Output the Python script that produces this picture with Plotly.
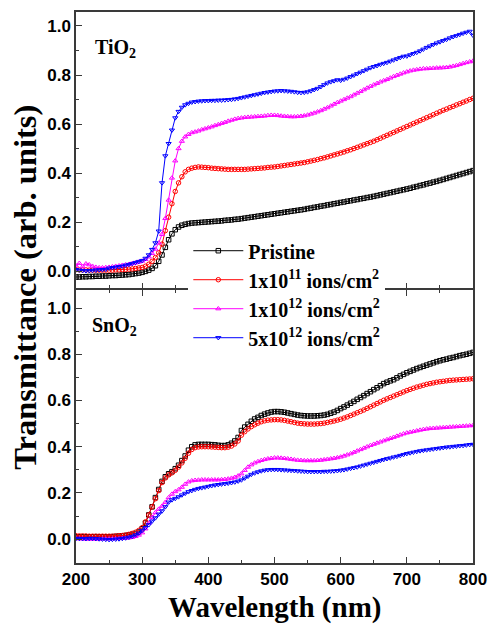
import plotly.graph_objects as go
from plotly.subplots import make_subplots

wavelength = list(range(200, 801, 5))

# ---------------- TiO2 ----------------
tio2_pristine = [
    -0.024, -0.024, -0.023, -0.023, -0.022, -0.022, -0.021, -0.021, -0.020, -0.020,
    -0.019, -0.018, -0.018, -0.017, -0.016, -0.015, -0.014, -0.012, -0.010, -0.008,
    -0.005, -0.001, 0.004, 0.011, 0.022, 0.040, 0.066, 0.097, 0.128, 0.152,
    0.169, 0.180, 0.187, 0.191, 0.194, 0.196, 0.197, 0.198, 0.199, 0.200,
    0.201, 0.202, 0.203, 0.204, 0.205, 0.207, 0.208, 0.209, 0.211, 0.212,
    0.214, 0.216, 0.218, 0.220, 0.222, 0.224, 0.226, 0.228, 0.230, 0.232,
    0.234, 0.236, 0.238, 0.240, 0.242, 0.244, 0.246, 0.248, 0.250, 0.252,
    0.255, 0.257, 0.260, 0.262, 0.265, 0.267, 0.270, 0.272, 0.275, 0.277,
    0.280, 0.282, 0.285, 0.287, 0.290, 0.292, 0.295, 0.297, 0.300, 0.302,
    0.305, 0.308, 0.311, 0.314, 0.317, 0.320, 0.323, 0.326, 0.329, 0.332,
    0.335, 0.338, 0.342, 0.345, 0.349, 0.352, 0.356, 0.359, 0.363, 0.366,
    0.370, 0.374, 0.378, 0.382, 0.386, 0.390, 0.394, 0.398, 0.402, 0.406,
    0.410]
tio2_1e11 = [
    0.006, 0.005, 0.005, 0.005, 0.004, 0.004, 0.004, 0.004, 0.004, 0.004,
    0.004, 0.004, 0.005, 0.005, 0.006, 0.007, 0.008, 0.009, 0.011, 0.013,
    0.015, 0.020, 0.028, 0.040, 0.055, 0.075, 0.110, 0.165, 0.220, 0.275,
    0.325, 0.360, 0.385, 0.405, 0.415, 0.420, 0.423, 0.425, 0.424, 0.423,
    0.422, 0.420, 0.419, 0.418, 0.417, 0.416, 0.415, 0.415, 0.415, 0.415,
    0.415, 0.415, 0.416, 0.417, 0.418, 0.419, 0.420, 0.421, 0.423, 0.424,
    0.425, 0.427, 0.429, 0.431, 0.433, 0.435, 0.437, 0.439, 0.441, 0.443,
    0.446, 0.449, 0.452, 0.455, 0.459, 0.462, 0.466, 0.470, 0.474, 0.478,
    0.482, 0.486, 0.491, 0.495, 0.500, 0.505, 0.510, 0.515, 0.520, 0.525,
    0.530, 0.536, 0.542, 0.548, 0.554, 0.560, 0.566, 0.572, 0.578, 0.584,
    0.590, 0.596, 0.602, 0.608, 0.614, 0.620, 0.626, 0.632, 0.638, 0.644,
    0.650, 0.656, 0.661, 0.667, 0.672, 0.678, 0.683, 0.689, 0.694, 0.700,
    0.705]
tio2_1e12 = [
    0.022, 0.032, 0.018, 0.030, 0.026, 0.020, 0.016, 0.014, 0.014, 0.015,
    0.016, 0.018, 0.020, 0.022, 0.024, 0.026, 0.028, 0.031, 0.034, 0.037,
    0.041, 0.048, 0.058, 0.072, 0.090, 0.115, 0.150, 0.215, 0.290, 0.380,
    0.450, 0.500, 0.530, 0.548, 0.558, 0.565, 0.568, 0.572, 0.577, 0.581,
    0.585, 0.589, 0.594, 0.598, 0.603, 0.607, 0.612, 0.616, 0.620, 0.623,
    0.625, 0.627, 0.628, 0.629, 0.630, 0.631, 0.632, 0.633, 0.635, 0.636,
    0.636, 0.635, 0.633, 0.632, 0.631, 0.630, 0.630, 0.631, 0.632, 0.634,
    0.637, 0.641, 0.645, 0.650, 0.655, 0.661, 0.667, 0.674, 0.681, 0.688,
    0.694, 0.700, 0.706, 0.712, 0.719, 0.726, 0.733, 0.740, 0.747, 0.754,
    0.760, 0.766, 0.772, 0.777, 0.782, 0.788, 0.794, 0.799, 0.804, 0.809,
    0.813, 0.817, 0.820, 0.822, 0.824, 0.826, 0.826, 0.827, 0.828, 0.829,
    0.829, 0.830, 0.831, 0.833, 0.836, 0.839, 0.843, 0.847, 0.851, 0.854,
    0.857]
tio2_5e12 = [
    0.006, 0.004, 0.002, 0.001, 0.002, 0.003, 0.004, 0.005, 0.006, 0.007,
    0.012, 0.014, 0.016, 0.018, 0.020, 0.024, 0.027, 0.031, 0.035, 0.039,
    0.043, 0.052, 0.066, 0.088, 0.115, 0.163, 0.360, 0.470, 0.520, 0.575,
    0.625, 0.651, 0.668, 0.678, 0.684, 0.689, 0.691, 0.693, 0.694, 0.695,
    0.695, 0.696, 0.696, 0.697, 0.697, 0.698, 0.699, 0.700, 0.702, 0.704,
    0.707, 0.710, 0.713, 0.716, 0.719, 0.722, 0.725, 0.728, 0.730, 0.732,
    0.734, 0.735, 0.736, 0.735, 0.734, 0.733, 0.731, 0.729, 0.728, 0.729,
    0.731, 0.735, 0.740, 0.745, 0.752, 0.760, 0.767, 0.772, 0.776, 0.780,
    0.778, 0.782, 0.787, 0.793, 0.799, 0.805, 0.811, 0.817, 0.823, 0.829,
    0.834, 0.838, 0.843, 0.847, 0.851, 0.856, 0.861, 0.866, 0.871, 0.876,
    0.877, 0.882, 0.887, 0.892, 0.898, 0.905, 0.912, 0.918, 0.924, 0.930,
    0.935, 0.940, 0.945, 0.951, 0.956, 0.960, 0.965, 0.970, 0.974, 0.978,
    0.962]

# ---------------- SnO2 ----------------
sno2_pristine = [
    0.010, 0.010, 0.011, 0.010, 0.010, 0.010, 0.011, 0.010, 0.010, 0.010,
    0.010, 0.011, 0.012, 0.013, 0.014, 0.016, 0.018, 0.021, 0.025, 0.031,
    0.045, 0.070, 0.105, 0.140, 0.180, 0.215, 0.250, 0.270, 0.283, 0.292,
    0.305, 0.320, 0.340, 0.360, 0.385, 0.400, 0.408, 0.410, 0.410, 0.410,
    0.410, 0.409, 0.408, 0.406, 0.405, 0.405, 0.408, 0.415, 0.425, 0.440,
    0.470, 0.485, 0.497, 0.510, 0.520, 0.527, 0.535, 0.541, 0.546, 0.550,
    0.552, 0.552, 0.551, 0.549, 0.546, 0.543, 0.540, 0.537, 0.535, 0.534,
    0.533, 0.533, 0.533, 0.534, 0.535, 0.537, 0.540, 0.545, 0.550, 0.557,
    0.565, 0.572, 0.580, 0.588, 0.596, 0.605, 0.613, 0.621, 0.630, 0.638,
    0.647, 0.655, 0.664, 0.673, 0.679, 0.685, 0.690, 0.698, 0.706, 0.713,
    0.720, 0.726, 0.732, 0.738, 0.743, 0.748, 0.753, 0.758, 0.763, 0.768,
    0.772, 0.776, 0.779, 0.783, 0.786, 0.790, 0.794, 0.797, 0.800, 0.804,
    0.808]
sno2_1e11 = [
    0.015, 0.014, 0.014, 0.014, 0.013, 0.013, 0.013, 0.013, 0.013, 0.013,
    0.013, 0.013, 0.014, 0.015, 0.016, 0.018, 0.021, 0.025, 0.030, 0.038,
    0.050, 0.075, 0.105, 0.140, 0.175, 0.210, 0.245, 0.265, 0.278, 0.287,
    0.298, 0.312, 0.330, 0.350, 0.372, 0.388, 0.396, 0.399, 0.400, 0.400,
    0.400, 0.399, 0.398, 0.397, 0.396, 0.396, 0.398, 0.403, 0.412, 0.425,
    0.450, 0.465, 0.477, 0.487, 0.495, 0.502, 0.508, 0.512, 0.515, 0.516,
    0.517, 0.517, 0.516, 0.514, 0.511, 0.508, 0.505, 0.502, 0.500, 0.499,
    0.498, 0.498, 0.498, 0.499, 0.500, 0.502, 0.505, 0.508, 0.511, 0.515,
    0.519, 0.524, 0.529, 0.535, 0.541, 0.547, 0.553, 0.559, 0.566, 0.573,
    0.580, 0.587, 0.594, 0.601, 0.607, 0.613, 0.619, 0.625, 0.631, 0.637,
    0.643, 0.648, 0.653, 0.658, 0.662, 0.666, 0.670, 0.673, 0.676, 0.679,
    0.681, 0.683, 0.685, 0.687, 0.688, 0.689, 0.690, 0.691, 0.692, 0.693,
    0.694]
sno2_1e12 = [
    0.003, 0.002, 0.002, 0.001, 0.001, 0.001, 0.001, 0.001, 0.002, 0.002,
    0.002, 0.002, 0.003, 0.003, 0.004, 0.005, 0.006, 0.008, 0.012, 0.018,
    0.028, 0.045, 0.070, 0.095, 0.115, 0.130, 0.143, 0.160, 0.180, 0.195,
    0.206, 0.214, 0.225, 0.238, 0.248, 0.253, 0.255, 0.256, 0.257, 0.257,
    0.257, 0.257, 0.257, 0.257, 0.258, 0.259, 0.261, 0.264, 0.268, 0.274,
    0.283, 0.298, 0.312, 0.322, 0.330, 0.336, 0.341, 0.345, 0.348, 0.350,
    0.352, 0.352, 0.351, 0.350, 0.348, 0.346, 0.344, 0.342, 0.341, 0.340,
    0.340, 0.340, 0.340, 0.341, 0.342, 0.344, 0.346, 0.348, 0.350, 0.353,
    0.356, 0.360, 0.365, 0.370, 0.376, 0.382, 0.388, 0.394, 0.400, 0.406,
    0.411, 0.416, 0.421, 0.426, 0.431, 0.436, 0.441, 0.446, 0.451, 0.456,
    0.460, 0.463, 0.466, 0.469, 0.472, 0.475, 0.477, 0.479, 0.480, 0.481,
    0.482, 0.483, 0.484, 0.485, 0.486, 0.487, 0.488, 0.489, 0.490, 0.491,
    0.492]
sno2_5e12 = [
    0.003, 0.003, 0.002, 0.002, 0.003, 0.003, 0.002, 0.001, 0.000, -0.001,
    -0.002, -0.001, 0.000, 0.001, 0.003, 0.005, 0.008, 0.012, 0.018, 0.026,
    0.038, 0.050, 0.062, 0.078, 0.092, 0.108, 0.122, 0.140, 0.160, 0.170,
    0.176, 0.183, 0.191, 0.198, 0.205, 0.210, 0.215, 0.219, 0.222, 0.225,
    0.228, 0.231, 0.234, 0.236, 0.238, 0.240, 0.242, 0.244, 0.247, 0.251,
    0.256, 0.264, 0.272, 0.280, 0.286, 0.291, 0.295, 0.298, 0.300, 0.301,
    0.301, 0.301, 0.300, 0.299, 0.298, 0.297, 0.296, 0.295, 0.294, 0.293,
    0.292, 0.292, 0.292, 0.292, 0.292, 0.293, 0.293, 0.294, 0.295, 0.296,
    0.298, 0.300, 0.303, 0.306, 0.309, 0.312, 0.316, 0.320, 0.324, 0.328,
    0.332, 0.336, 0.340, 0.344, 0.348, 0.351, 0.355, 0.358, 0.362, 0.366,
    0.370, 0.373, 0.376, 0.379, 0.382, 0.384, 0.386, 0.388, 0.390, 0.392,
    0.394, 0.396, 0.398, 0.399, 0.401, 0.402, 0.404, 0.405, 0.407, 0.409,
    0.410]

series_names = ["Pristine",
                "1x10<sup>11</sup> ions/cm<sup>2</sup>",
                "1x10<sup>12</sup> ions/cm<sup>2</sup>",
                "5x10<sup>12</sup> ions/cm<sup>2</sup>"]
colors = ["#000000", "#ff0000", "#ff00ff", "#0000ff"]
symbols = ["square-open", "circle-open", "triangle-up-open", "triangle-down-open"]

tio2 = [tio2_pristine, tio2_1e11, tio2_1e12, tio2_5e12]
sno2 = [sno2_pristine, sno2_1e11, sno2_1e12, sno2_5e12]

W, H = 497, 625
L, R, T, B = 76, 18, 10, 62
ph = H - T - B
split = 274 / ph
LW = 1.5

fig = make_subplots(rows=2, cols=1, shared_xaxes=False, vertical_spacing=0)

for i in range(4):
    fig.add_trace(go.Scatter(
        x=wavelength, y=tio2[i], mode="lines+markers", name=series_names[i],
        line=dict(color=colors[i], width=1),
        marker=dict(symbol=symbols[i], size=4.5, color=colors[i], line=dict(width=1, color=colors[i])),
        showlegend=True), row=1, col=1)
for i in range(4):
    fig.add_trace(go.Scatter(
        x=wavelength, y=sno2[i], mode="lines+markers", name=series_names[i],
        line=dict(color=colors[i], width=1),
        marker=dict(symbol=symbols[i], size=4.5, color=colors[i], line=dict(width=1, color=colors[i])),
        showlegend=False), row=2, col=1)

axcol = "#3a3a3a"
tickfont = dict(family="Liberation Sans", size=17, color="#000", weight="bold")

xcommon = dict(range=[200, 800], dtick=100, tick0=200, ticks="inside", ticklen=6, tickwidth=1.2,
               tickcolor=axcol, showline=True, linecolor=axcol, linewidth=LW, showgrid=False,
               zeroline=False,
               minor=dict(dtick=50, ticks="inside", ticklen=3.5, tickwidth=1.2, tickcolor=axcol, showgrid=False))
ycommon = dict(dtick=0.2, tick0=0, ticks="inside", ticklen=6, tickwidth=1.2, tickcolor=axcol,
               showline=True, linecolor=axcol, linewidth=LW, showgrid=False, zeroline=False,
               tickformat=".1f", tickfont=tickfont,
               minor=dict(dtick=0.1, ticks="inside", ticklen=3.5, tickwidth=1.2, tickcolor=axcol, showgrid=False))

top_lo = split + LW / ph
fig.update_layout(
    xaxis=dict(**xcommon, domain=[0, 1], anchor="y", mirror=True, showticklabels=False),
    xaxis2=dict(**xcommon, domain=[0, 1], anchor="y2", mirror="ticks", showticklabels=True,
                tickfont=tickfont),
    yaxis=dict(**ycommon, domain=[top_lo, 1], range=[-0.077 + LW / 246, 1.057], mirror=True),
    yaxis2=dict(**ycommon, domain=[0, split], range=[-0.103, 1.078], mirror=True),
)

fig.update_layout(
    width=W, height=H,
    margin=dict(l=L, r=R, t=T, b=B),
    paper_bgcolor="white", plot_bgcolor="white",
    showlegend=True,
    legend=dict(x=(190 - L) / 403, y=(H - B - 230) / ph, xanchor="left", yanchor="top",
                bgcolor="rgba(255,255,255,1)", borderwidth=0, tracegroupgap=0,
                itemwidth=50,
                font=dict(family="Liberation Serif", size=20, color="#000", weight="bold")),
    annotations=[
        dict(text="TiO<sub>2</sub>", xref="paper", yref="paper", x=(93 - L) / 403, y=(H - B - 47) / ph,
             xanchor="left", yanchor="middle", showarrow=False,
             font=dict(family="Liberation Serif", size=20, color="#000", weight="bold")),
        dict(text="SnO<sub>2</sub>", xref="paper", yref="paper", x=(90 - L) / 403, y=(H - B - 326) / ph,
             xanchor="left", yanchor="middle", showarrow=False,
             font=dict(family="Liberation Serif", size=20, color="#000", weight="bold")),
        dict(text="Transmittance (arb. units)", xref="paper", yref="paper", x=(24 - L) / 403, y=0.501,
             xanchor="center", yanchor="middle", textangle=-90, showarrow=False,
             font=dict(family="Liberation Serif", size=32.5, color="#000", weight="bold")),
        dict(text="Wavelength (nm)", xref="paper", yref="paper", x=0.5, y=(H - B - 608) / ph,
             xanchor="center", yanchor="middle", showarrow=False,
             font=dict(family="Liberation Serif", size=29, color="#000", weight="bold")),
    ],
)

fig.write_html("out.html")
